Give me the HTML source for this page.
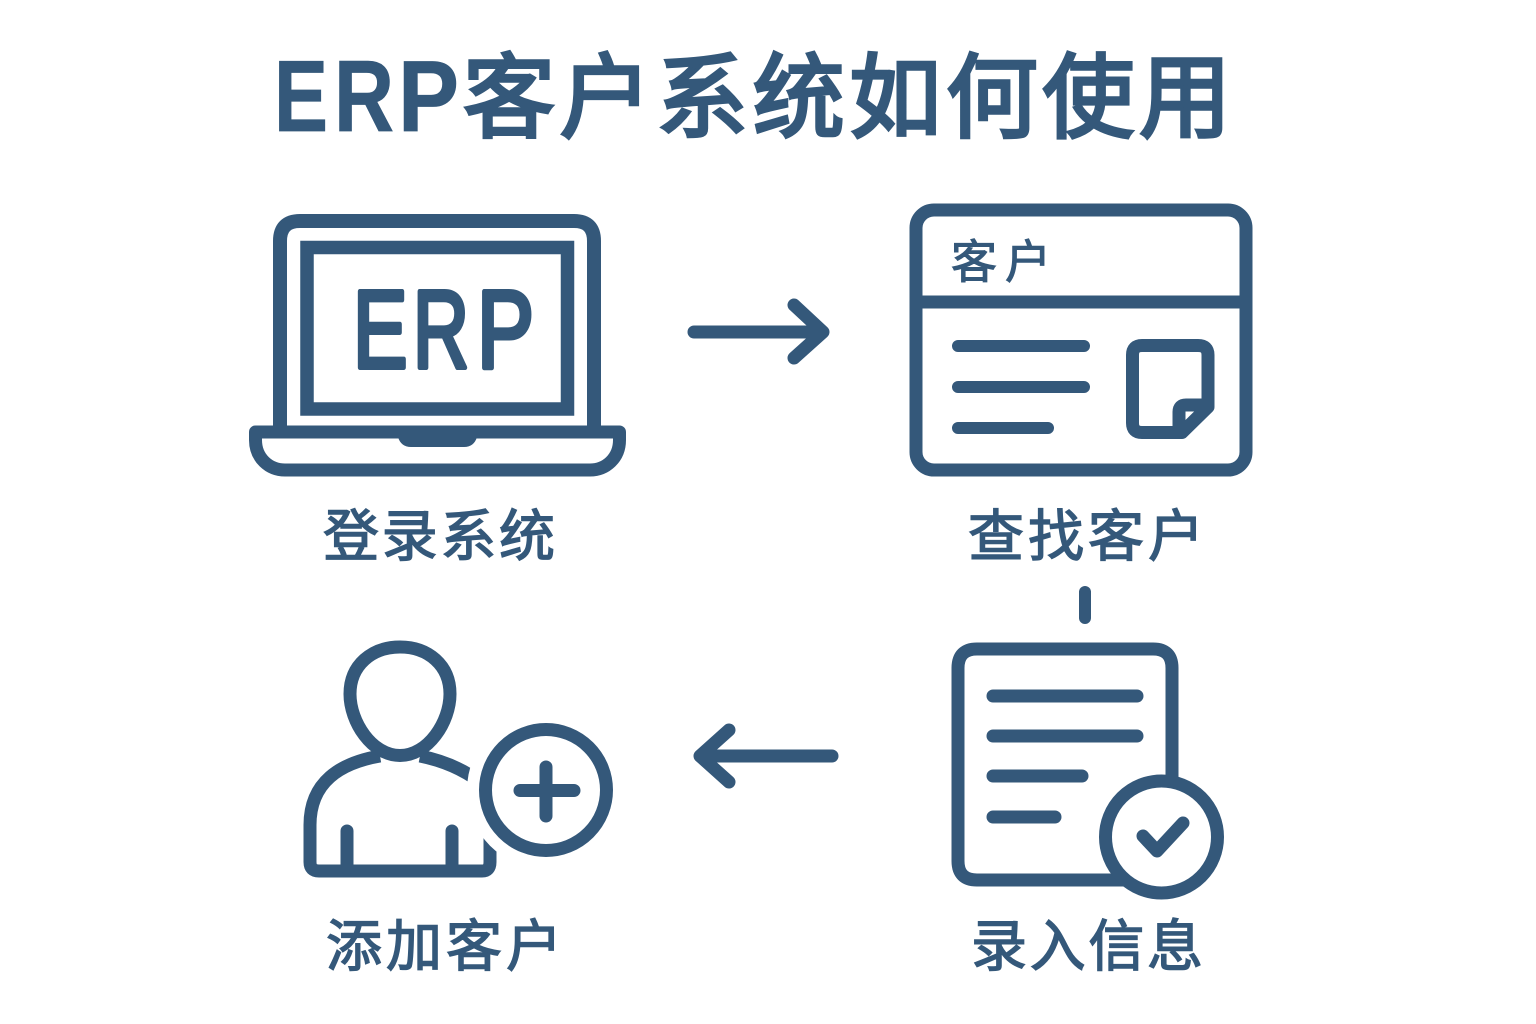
<!DOCTYPE html>
<html><head><meta charset="utf-8"><style>
html,body{margin:0;padding:0;background:#fff}
svg{display:block}
text{font-family:"Liberation Sans","Noto Sans CJK SC",sans-serif;fill:#34587a;stroke:#34587a}
</style></head><body>
<svg width="1536" height="1024" viewBox="0 0 1536 1024" xmlns="http://www.w3.org/2000/svg">
<g fill="none" stroke="#34587a" stroke-width="13" stroke-linecap="round" stroke-linejoin="round">
<!-- laptop -->
<path d="M280 428V241Q280 221 300 221H574Q594 221 594 241V428" stroke-width="14"/>
<rect x="307" y="247.500" width="260.500" height="161.500" stroke-linejoin="miter" stroke-width="13.500"/>
<path d="M255.500 432H619.500V440C619.500 458 606 470 590 470H285C269 470 255.500 458 255.500 440Z"/>
<path d="M398 437H477Q474 447 464 447H411Q401 447 398 437Z" fill="#34587a" stroke="none"/>
<!-- arrow 1 -->
<path d="M694 332H822M794 305L823 332L794 358"/>
<!-- customer window -->
<rect x="916" y="210" width="330" height="260" rx="18"/>
<path d="M916 302H1246" stroke-linecap="butt"/>
<path d="M958 346H1084M958 387H1084M958 428H1048" stroke-width="12"/>
<path d="M1150 432.500H1142Q1132.500 432.500 1132.500 423V355Q1132.500 345.500 1142 345.500H1198Q1208 345.500 1208 355V407L1182 432.500H1150"/>
<path d="M1179 432V412Q1179 405 1186 405H1207"/>
<!-- connector -->
<path d="M1085 592V618" stroke-width="12"/>
<!-- doc -->
<path d="M1130 880H977Q958 880 958 861V668Q958 649 977 649H1153Q1172 649 1172 668V785"/>
<path d="M993 696H1137M993 736H1137M993 776H1082M993 817H1055"/>
<circle cx="1161.500" cy="837" r="56" fill="#fff"/>
<path d="M1143 836L1157 851L1183 823"/>
<!-- arrow 2 -->
<path d="M832 756H702M729 730L700 756L729 782"/>
<!-- user -->
<path d="M380 756C340 763 310 782 310 825V862Q310 871 319 871H482Q490 871 490 862V830" stroke-linecap="butt"/>
<path d="M420 756C440 760 460 767 480 782" stroke-linecap="butt"/>
<path d="M347 831V868M452 831V868"/>
<path d="M400 755.500C372 755.500 350 722 350 694C350 665 372 647 400 647C428 647 450 665 450 694C450 722 428 755.500 400 755.500Z"/>
<circle cx="546" cy="790" r="79" fill="#fff" stroke="none"/>
<circle cx="546" cy="790" r="60.500"/>
<path d="M546 767V816M520 790.500H574"/>
</g>
<text x="274" y="131" font-size="101" font-weight="700" stroke-width="0.800" textLength="54" lengthAdjust="spacingAndGlyphs">E</text>
<text x="334" y="131" font-size="101" font-weight="700" stroke-width="0.800" textLength="60" lengthAdjust="spacingAndGlyphs">R</text>
<text x="398" y="131" font-size="101" font-weight="700" stroke-width="0.800" textLength="61" lengthAdjust="spacingAndGlyphs">P</text>
<text x="463" y="130" font-size="92" stroke-width="3.400" stroke-linejoin="miter" textLength="768" lengthAdjust="spacing">客户系统如何使用</text>
<text x="353" y="367.500" font-size="110" stroke-width="5" stroke-linejoin="round" textLength="54.500" lengthAdjust="spacingAndGlyphs">E</text>
<text x="413" y="367.500" font-size="110" stroke-width="5" stroke-linejoin="round" textLength="56" lengthAdjust="spacingAndGlyphs">R</text>
<text x="477" y="367.500" font-size="110" stroke-width="5" stroke-linejoin="round" textLength="57" lengthAdjust="spacingAndGlyphs">P</text>
<text x="951" y="278" font-size="46" stroke-width="1.100" textLength="100" lengthAdjust="spacing">客户</text>
<text x="323" y="556" font-size="56" stroke-width="1.400" textLength="232" lengthAdjust="spacing">登录系统</text>
<text x="968" y="556" font-size="56" stroke-width="1.400" textLength="236" lengthAdjust="spacing">查找客户</text>
<text x="326" y="966" font-size="56" stroke-width="1.400" textLength="236" lengthAdjust="spacing">添加客户</text>
<text x="971" y="966" font-size="56" stroke-width="1.400" textLength="232" lengthAdjust="spacing">录入信息</text>
</svg>
</body></html>
